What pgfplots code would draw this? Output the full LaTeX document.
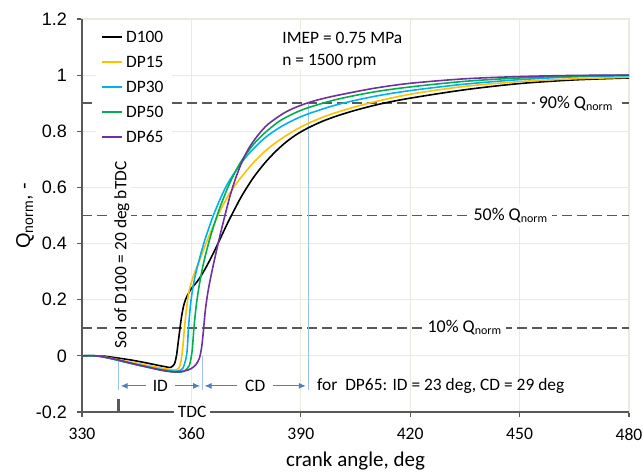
\documentclass[border=0pt]{standalone}
\usepackage{fontspec}
\setmainfont{Carlito}
\newfontfamily\arial{Liberation Sans}
\usepackage{pgfplots}
\pgfplotsset{compat=1.18}
\usepackage{pgfplotstable}
\usetikzlibrary{arrows.meta,calc}

\definecolor{gridc}{RGB}{236,234,222}
\definecolor{axisc}{RGB}{89,89,89}
\definecolor{cDPa}{RGB}{255,192,0}
\definecolor{cDPb}{RGB}{0,176,240}
\definecolor{cDPc}{RGB}{0,176,80}
\definecolor{cDPd}{RGB}{112,48,160}
\definecolor{arrowc}{RGB}{79,129,189}
\definecolor{vlinec}{RGB}{157,195,230}

% crank angle [deg], Q_norm [-]
\pgfplotstableread{
x y
330 0
334 0
336 -0.001
340 -0.008
344 -0.016
348 -0.026
351 -0.034
353 -0.039
354.3 -0.041
355.3 -0.030
355.9 0.0
356.4 0.05
357.3 0.14
358 0.185
358.7 0.21
360 0.24
361.3 0.26
362.4 0.28
364 0.315
366 0.365
368 0.42
370 0.475
372 0.526
374 0.574
377 0.635
380 0.685
383 0.727
386 0.762
389 0.79
392 0.812
396 0.836
400 0.855
405 0.875
412 0.898
420 0.918
435 0.948
450 0.97
465 0.983
480 0.99
}\tabDhundred

\pgfplotstableread{
x y
330 0
334 0
338 -0.008
342 -0.019
346 -0.029
350 -0.039
353 -0.046
355.5 -0.050
356.6 -0.043
357.2 -0.015
357.7 0.04
358.1 0.10
358.6 0.16
359.2 0.22
360 0.262
361 0.30
362.4 0.345
364 0.40
366 0.463
368 0.52
370 0.568
372 0.608
374.5 0.65
377 0.688
380 0.727
383.5 0.763
387 0.793
390 0.815
392 0.828
396 0.85
400 0.868
408 0.898
420 0.932
435 0.96
450 0.977
465 0.987
480 0.992
}\tabDPfifteen

\pgfplotstableread{
x y
330 0
334 0
338 -0.01
342 -0.022
346 -0.033
350 -0.044
353 -0.051
356 -0.055
357.6 -0.045
358.5 -0.01
358.9 0.03
359.2 0.10
359.8 0.187
360.5 0.25
361.4 0.305
362.4 0.355
363.5 0.405
364.6 0.448
366 0.50
368 0.562
370 0.615
373 0.675
376 0.724
380 0.775
384 0.812
388 0.84
392 0.862
400 0.895
410 0.924
420 0.945
435 0.968
450 0.984
465 0.994
480 0.998
}\tabDPthirty

\pgfplotstableread{
x y
330 0
334 0
338 -0.01
342 -0.023
346 -0.035
350 -0.046
353 -0.053
356 -0.058
358 -0.055
359.4 -0.035
360 0.0
360.3 0.03
360.7 0.10
361.4 0.187
362.4 0.27
363.5 0.34
365 0.415
366.5 0.478
368 0.535
370 0.60
372 0.655
374 0.70
377 0.753
380 0.793
384 0.835
388 0.863
392 0.884
400 0.914
410 0.94
420 0.958
435 0.978
450 0.99
465 0.997
480 1.0
}\tabDPfifty

\pgfplotstableread{
x y
330 0
334 0
339.5 -0.013
344 -0.028
348.6 -0.042
352 -0.052
355 -0.057
358 -0.054
360 -0.045
361.3 -0.03
362.2 -0.008
362.8 0.03
363.3 0.09
363.8 0.16
364.5 0.225
365.3 0.28
366.2 0.335
367.5 0.41
369 0.49
370.5 0.565
372 0.628
374 0.695
376 0.745
378.5 0.79
381 0.825
385 0.862
388 0.882
391.6 0.90
395 0.913
400 0.928
410 0.953
420 0.971
435 0.987
450 0.995
465 0.999
480 1.0
}\tabDPsixtyfive

\begin{document}
\begin{tikzpicture}
\begin{axis}[
    name=ax,
    width=273.5pt, height=196.5pt, scale only axis,
    xmin=330, xmax=480, ymin=-0.2, ymax=1.2,
    xtick={330,360,390,420,450,480},
    xticklabels={330,360,390,420,450,480},
    ytick={-0.2,0,0.2,0.4,0.6,0.8,1,1.2},
    yticklabels={-0.2,0,0.2,0.4,0.6,0.8,1,1.2},
    grid=major,
    major grid style={gridc, line width=0.6pt},
    axis line style={gridc, line width=0.6pt},
    tick pos=left, tick align=outside, major tick length=2.5pt,
    tick style={axisc, line width=0.6pt},
    xticklabel style={font=\fontsize{8.8}{10}\selectfont, yshift=-2pt},
    yticklabel style={font=\arial\fontsize{9}{10}\selectfont, xshift=-1.5pt},
    xlabel={crank angle, deg},
    xlabel style={font=\fontsize{10.5}{12}\selectfont, at={(axis description cs:0.5,-0.125)}, anchor=center},
    ylabel={Q\textsubscript{norm}, -},
    ylabel style={font=\arial\fontsize{10}{12}\selectfont, at={(axis description cs:-0.104,0.5)}, anchor=center},
    legend style={at={(0.024,0.992)}, anchor=north west, draw=none, fill=white,
        font=\fontsize{8.7}{10}\selectfont, row sep=2pt,
        nodes={inner sep=1.5pt, text height=6.3pt, text depth=1.2pt}},
    legend image code/.code={\draw[#1] (0pt,0pt) -- (10pt,0pt);},
    legend cell align=left,
    clip=false,
]
% reference levels
\addplot[forget plot, axisc, line width=0.8pt, dash pattern=on 5pt off 2.5pt] coordinates {(330,0.9) (480,0.9)};
\addplot[forget plot, axisc, line width=0.8pt, dash pattern=on 5pt off 2.5pt] coordinates {(330,0.5) (480,0.5)};
\addplot[forget plot, axisc, line width=0.8pt, dash pattern=on 5pt off 2.5pt] coordinates {(330,0.1) (480,0.1)};
% ID / CD markers
\addplot[forget plot, vlinec, line width=0.5pt] coordinates {(340,-0.12) (340,-0.02)};
\addplot[forget plot, vlinec, line width=0.5pt] coordinates {(363,-0.12) (363,0.0)};
\addplot[forget plot, vlinec, line width=0.5pt] coordinates {(392,-0.12) (392,0.9)};
\addplot[forget plot, axisc, line width=1.5pt] coordinates {(340,-0.2) (340,-0.155)};

\addplot[black, line width=0.8pt, smooth, tension=0.5] table {\tabDhundred};
\addlegendentry{D100}
\addplot[cDPa, line width=0.8pt, smooth, tension=0.5] table {\tabDPfifteen};
\addlegendentry{DP15}
\addplot[cDPb, line width=0.8pt, smooth, tension=0.5] table {\tabDPthirty};
\addlegendentry{DP30}
\addplot[cDPc, line width=0.8pt, smooth, tension=0.5] table {\tabDPfifty};
\addlegendentry{DP50}
\addplot[cDPd, line width=0.8pt, smooth, tension=0.5] table {\tabDPsixtyfive};
\addlegendentry{DP65}

\draw[axisc, line width=0.7pt] (rel axis cs:0,1) -- (rel axis cs:0,0) -- (rel axis cs:1,0);

\begin{scope}[font=\fontsize{9}{10}\selectfont]
\node[fill=white, inner sep=2pt] at (axis cs:465.5,0.9) {90\% Q\textsubscript{norm}};
\node[fill=white, inner sep=2pt] at (axis cs:447.6,0.5) {50\% Q\textsubscript{norm}};
\node[fill=white, inner sep=2pt] at (axis cs:435,0.1) {10\% Q\textsubscript{norm}};
\end{scope}

\begin{scope}[font=\fontsize{8.7}{10}\selectfont]
\node[anchor=west, fill=white, inner sep=1pt] at (axis cs:384.3,1.133) {IMEP = 0.75 MPa};
\node[anchor=west, fill=white, inner sep=1pt] at (axis cs:384.3,1.051) {n = 1500 rpm};
\node[rotate=90, fill=white, inner sep=1pt] at (axis cs:340.9,0.36) {SoI of D100 = 20 deg bTDC};
\draw[arrowc, line width=0.5pt, {Latex[length=3.5pt,width=3pt]}-{Latex[length=3.5pt,width=3pt]}]
    (axis cs:340.6,-0.107) -- (axis cs:362.4,-0.107)
    node[midway, fill=white, text=black, inner xsep=3.5pt, inner ysep=1pt] {ID};
\draw[arrowc, line width=0.5pt, {Latex[length=3.5pt,width=3pt]}-{Latex[length=3.5pt,width=3pt]}]
    (axis cs:363.6,-0.107) -- (axis cs:391.4,-0.107)
    node[midway, fill=white, text=black, inner xsep=4pt, inner ysep=1pt] {CD};
\node[anchor=west, inner sep=0pt] at (axis cs:394.4,-0.107) {for\ \ DP65: ID = 23 deg, CD = 29 deg};
\node[fill=white, inner xsep=2pt, inner ysep=0.5pt] at (axis cs:360.2,-0.2) {TDC};
\end{scope}
\end{axis}
\pgfresetboundingbox
\path[use as bounding box] ($(ax.south west)+(-41pt,-30pt)$) rectangle ($(ax.north east)+(7pt,9.5pt)$);
\end{tikzpicture}
\end{document}
